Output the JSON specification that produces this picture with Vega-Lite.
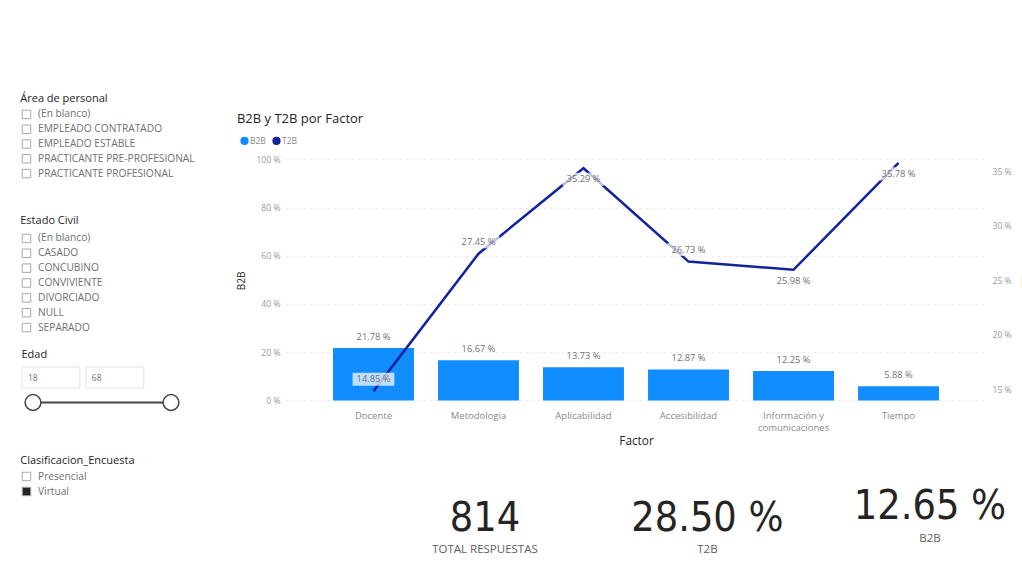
{
  "$schema": "https://vega.github.io/schema/vega-lite/v6.json",
  "background": "white",
  "padding": {"left": 20, "top": 93, "right": 0, "bottom": 0},
  "config": {
    "font": "Open Sans",
    "view": {"stroke": null},
    "title": {"font": "Open Sans", "fontWeight": "normal", "color": "#252423", "fontSize": 11},
    "axis": {"labelFont": "Open Sans", "titleFont": "Open Sans", "titleFontWeight": "normal"},
    "legend": {"labelFont": "Open Sans"}
  },
  "spacing": 24,
  "resolve": {"scale": {"color": "independent", "fill": "independent"}, "legend": {"color": "independent", "fill": "independent"}},
  "hconcat": [
    {
      "spacing": 13,
      "vconcat": [
        {
          "spacing": 34,
          "vconcat": [
            {
              "title": {"text": "Área de personal", "anchor": "start", "frame": "bounds", "offset": 3},
              "width": 190,
              "height": 74,
              "data": {"values": [
                {"opcion": "(En blanco)", "marcado": "no"},
                {"opcion": "EMPLEADO CONTRATADO", "marcado": "no"},
                {"opcion": "EMPLEADO ESTABLE", "marcado": "no"},
                {"opcion": "PRACTICANTE PRE-PROFESIONAL", "marcado": "no"},
                {"opcion": "PRACTICANTE PROFESIONAL", "marcado": "no"}
              ]},
              "encoding": {
                "y": {"field": "opcion", "type": "nominal", "sort": null, "axis": null},
                "x": {"datum": 0, "type": "quantitative", "scale": {"domain": [0, 1], "padding": 4.5}, "axis": null}
              },
              "layer": [
                {"mark": {"type": "point", "shape": "square", "size": 72, "filled": true, "stroke": "#a8a8a8", "strokeWidth": 1, "opacity": 1},
                 "encoding": {"fill": {"field": "marcado", "type": "nominal", "scale": {"domain": ["no", "sí"], "range": ["white", "#252423"]}, "legend": null}}},
                {"mark": {"type": "text", "align": "left", "dx": 11.5, "fontSize": 10.2, "color": "#707070"},
                 "encoding": {"text": {"field": "opcion"}}}
              ]
            },
            {
              "title": {"text": "Estado Civil", "anchor": "start", "frame": "bounds", "offset": 5},
              "width": 190,
              "height": 104,
              "data": {"values": [
                {"opcion": "(En blanco)", "marcado": "no"},
                {"opcion": "CASADO", "marcado": "no"},
                {"opcion": "CONCUBINO", "marcado": "no"},
                {"opcion": "CONVIVIENTE", "marcado": "no"},
                {"opcion": "DIVORCIADO", "marcado": "no"},
                {"opcion": "NULL", "marcado": "no"},
                {"opcion": "SEPARADO", "marcado": "no"}
              ]},
              "encoding": {
                "y": {"field": "opcion", "type": "nominal", "sort": null, "axis": null},
                "x": {"datum": 0, "type": "quantitative", "scale": {"domain": [0, 1], "padding": 4.5}, "axis": null}
              },
              "layer": [
                {"mark": {"type": "point", "shape": "square", "size": 72, "filled": true, "stroke": "#a8a8a8", "strokeWidth": 1, "opacity": 1},
                 "encoding": {"fill": {"field": "marcado", "type": "nominal", "scale": {"domain": ["no", "sí"], "range": ["white", "#252423"]}, "legend": null}}},
                {"mark": {"type": "text", "align": "left", "dx": 11.5, "fontSize": 10.2, "color": "#707070"},
                 "encoding": {"text": {"field": "opcion"}}}
              ]
            }
          ]
        },
        {
          "spacing": 41,
          "vconcat": [
            {
              "title": {"text": "Edad", "anchor": "start", "frame": "bounds", "offset": 7},
              "width": 160,
              "height": 46,
              "data": {"values": [
                {"limite": "mínimo", "edad": 18},
                {"limite": "máximo", "edad": 68}
              ]},
              "encoding": {
                "y": {"datum": "entrada", "type": "nominal", "axis": null, "scale": {"domain": ["entrada", "control"], "paddingInner": 0.16, "paddingOuter": 0}}
              },
              "resolve": {"scale": {"x": "independent"}},
              "layer": [
                {
                  "encoding": {
                    "x": {"field": "limite", "type": "nominal", "sort": null, "axis": null, "scale": {"paddingInner": 0.094, "paddingOuter": 0.3, "align": 0}}
                  },
                  "layer": [
                    {"mark": {"type": "bar", "fill": "white", "stroke": "#e3e3e3", "strokeWidth": 1}},
                    {
                      "mark": {"type": "text", "align": "left", "dx": 6, "fontSize": 8.5, "color": "#707070"},
                      "encoding": {
                        "x": {"field": "limite", "type": "nominal", "sort": null, "bandPosition": 0, "axis": null},
                        "text": {"field": "edad"}
                      }
                    }
                  ]
                },
                {
                  "encoding": {
                    "y": {"datum": "control", "type": "nominal"}
                  },
                  "layer": [
                    {
                      "mark": {"type": "rule", "color": "#444", "strokeWidth": 2},
                      "encoding": {
                        "x": {"aggregate": "min", "field": "edad", "type": "quantitative", "axis": null, "scale": {"domain": [18, 68], "padding": 11, "nice": false, "zero": false}},
                        "x2": {"aggregate": "max", "field": "edad"}
                      }
                    },
                    {
                      "mark": {"type": "point", "shape": "circle", "size": 250, "filled": true, "fill": "white", "stroke": "#444", "strokeWidth": 1.5, "opacity": 1},
                      "encoding": {
                        "x": {"field": "edad", "type": "quantitative", "axis": null}
                      }
                    }
                  ]
                }
              ]
            },
            {
              "title": {"text": "Clasificacion_Encuesta", "anchor": "start", "frame": "bounds", "offset": 3},
              "width": 190,
              "height": 30,
              "data": {"values": [
                {"opcion": "Presencial", "marcado": "no"},
                {"opcion": "Virtual", "marcado": "sí"}
              ]},
              "encoding": {
                "y": {"field": "opcion", "type": "nominal", "sort": null, "axis": null},
                "x": {"datum": 0, "type": "quantitative", "scale": {"domain": [0, 1], "padding": 4.5}, "axis": null}
              },
              "layer": [
                {"mark": {"type": "point", "shape": "square", "size": 72, "filled": true, "stroke": "#a8a8a8", "strokeWidth": 1, "opacity": 1},
                 "encoding": {"fill": {"field": "marcado", "type": "nominal", "scale": {"domain": ["no", "sí"], "range": ["white", "#252423"]}, "legend": null}}},
                {"mark": {"type": "text", "align": "left", "dx": 11.5, "fontSize": 10.2, "color": "#707070"},
                 "encoding": {"text": {"field": "opcion"}}}
              ]
            }
          ]
        }
      ]
    },
    {
      "spacing": 38,
      "resolve": {"scale": {"color": "independent"}, "legend": {"color": "independent"}},
      "vconcat": [
        {
          "title": {"text": "B2B y T2B por Factor", "anchor": "start", "frame": "bounds", "fontSize": 13, "offset": -19, "color": "#252423"},
          "width": 702,
          "height": 293.4,
          "data": {"values": [
            {"Factor": "Docente", "B2B": 21.78, "T2B": 14.85},
            {"Factor": "Metodologia", "B2B": 16.67, "T2B": 27.45},
            {"Factor": "Aplicabilidad", "B2B": 13.73, "T2B": 35.29},
            {"Factor": "Accesibilidad", "B2B": 12.87, "T2B": 26.73},
            {"Factor": "Información y comunicaciones", "B2B": 12.25, "T2B": 25.98},
            {"Factor": "Tiempo", "B2B": 5.88, "T2B": 35.78}
          ]},
          "transform": [
            {"calculate": "format(datum.B2B, '.2f') + ' %'", "as": "B2B_txt"},
            {"calculate": "format(datum.T2B, '.2f') + ' %'", "as": "T2B_txt"}
          ],
          "encoding": {
            "x": {
              "field": "Factor", "type": "nominal", "sort": null,
              "scale": {"paddingInner": 0.229, "paddingOuter": 0.457},
              "axis": {
                "title": "Factor", "titleFontSize": 11.8, "titleColor": "#252423", "titlePadding": 4,
                "labelAngle": 0, "labelFontSize": 9.5, "labelColor": "#8a8a8a", "labelPadding": 10,
                "domain": false, "ticks": false,
                "labelExpr": "datum.label == 'Información y comunicaciones' ? ['Información y', 'comunicaciones'] : datum.label",
                "labelLineHeight": 12
              }
            }
          },
          "layer": [
            {
              "encoding": {
                "y": {
                  "field": "B2B", "type": "quantitative",
                  "scale": {"domain": [0, 121.74], "nice": false},
                  "axis": {
                    "title": "B2B", "titleFontSize": 10, "titleColor": "#252423", "titlePadding": 9, "titleY": 173.4,
                    "values": [0, 20, 40, 60, 80, 100], "labelExpr": "datum.value + ' %'",
                    "labelFontSize": 8.6, "labelColor": "#9a9a9a", "labelPadding": 5,
                    "domain": false, "ticks": false,
                    "grid": true, "gridColor": "#ececec", "gridDash": [3, 3]
                  }
                }
              },
              "layer": [
                {
                  "mark": {"type": "bar"},
                  "encoding": {
                    "color": {
                      "datum": "B2B", "type": "nominal",
                      "scale": {"domain": ["B2B", "T2B"], "range": ["#118DFF", "#12239E"]},
                      "legend": {
                        "title": null, "orient": "none", "legendX": -45, "legendY": 29.4,
                        "direction": "horizontal", "symbolType": "circle", "symbolSize": 45,
                        "labelFontSize": 8.5, "labelColor": "#8a8a8a", "columnPadding": 4, "labelOffset": 1
                      }
                    }
                  }
                },
                {
                  "mark": {"type": "text", "dy": -11, "fontSize": 9.3, "color": "#707070"},
                  "encoding": {"text": {"field": "B2B_txt"}}
                }
              ]
            },
            {
              "encoding": {
                "y": {
                  "field": "T2B", "type": "quantitative",
                  "scale": {"domain": [14, 40.905], "nice": false, "zero": false},
                  "axis": {
                    "orient": "right", "title": "T2B", "titleFontSize": 10, "titleColor": "#252423", "titlePadding": 8, "titleY": 173.4,
                    "values": [15, 20, 25, 30, 35], "labelExpr": "datum.value + ' %'",
                    "labelFontSize": 8.6, "labelColor": "#9a9a9a", "labelPadding": 5,
                    "domain": false, "ticks": false, "grid": false
                  }
                }
              },
              "layer": [
                {
                  "mark": {"type": "line", "strokeWidth": 2.5},
                  "encoding": {"color": {"datum": "T2B", "type": "nominal"}}
                },
                {
                  "transform": [{"filter": {"field": "Factor", "oneOf": ["Docente", "Metodologia", "Accesibilidad"]}}],
                  "mark": {"type": "point", "shape": "M-0.95,-0.84L0.95,-0.84L0.95,-0.25L-0.95,-0.25Z", "size": 1936, "filled": true, "fill": "white", "opacity": 0.72, "strokeWidth": 0},
                  "encoding": {}
                },
                {
                  "transform": [{"filter": {"field": "Factor", "oneOf": ["Docente", "Metodologia", "Accesibilidad"]}}],
                  "mark": {"type": "text", "dy": -12, "fontSize": 9.3, "color": "#707070"},
                  "encoding": {"text": {"field": "T2B_txt"}}
                },
                {
                  "transform": [{"filter": {"field": "Factor", "oneOf": ["Aplicabilidad", "Información y comunicaciones", "Tiempo"]}}],
                  "mark": {"type": "point", "shape": "M-0.95,0.2L0.95,0.2L0.95,0.8L-0.95,0.8Z", "size": 1936, "filled": true, "fill": "white", "opacity": 0.72, "strokeWidth": 0},
                  "encoding": {}
                },
                {
                  "transform": [{"filter": {"field": "Factor", "oneOf": ["Aplicabilidad", "Información y comunicaciones", "Tiempo"]}}],
                  "mark": {"type": "text", "dy": 11, "fontSize": 9.3, "color": "#707070"},
                  "encoding": {"text": {"field": "T2B_txt"}}
                }
              ]
            }
          ],
          "resolve": {"scale": {"y": "independent"}}
        },
        {
          "width": 702,
          "height": 60,
          "data": {"values": [
            {"indicador": "TOTAL RESPUESTAS", "valor": "814"},
            {"indicador": "T2B", "valor": "28.50 %"},
            {"indicador": "B2B", "valor": "12.65 %"}
          ]},
          "encoding": {
            "x": {"field": "indicador", "type": "nominal", "sort": null, "axis": null, "scale": {"type": "point", "padding": 0.5775, "align": 0.778}}
          },
          "layer": [
            {
              "transform": [{"filter": "datum.indicador != 'B2B'"}],
              "mark": {"type": "text", "font": "DejaVu Sans Condensed", "fontSize": 41, "color": "#252423", "baseline": "middle"},
              "encoding": {"text": {"field": "valor"}}
            },
            {
              "transform": [{"filter": "datum.indicador == 'B2B'"}],
              "mark": {"type": "text", "font": "DejaVu Sans Condensed", "fontSize": 41, "color": "#252423", "baseline": "middle", "dy": -12},
              "encoding": {"text": {"field": "valor"}}
            },
            {
              "transform": [{"filter": "datum.indicador != 'B2B'"}],
              "mark": {"type": "text", "fontSize": 11.5, "color": "#605e5c", "baseline": "middle", "dy": 31},
              "encoding": {"text": {"field": "indicador"}}
            },
            {
              "transform": [{"filter": "datum.indicador == 'B2B'"}],
              "mark": {"type": "text", "fontSize": 11.5, "color": "#605e5c", "baseline": "middle", "dy": 20},
              "encoding": {"text": {"field": "indicador"}}
            }
          ]
        }
      ]
    }
  ]
}
